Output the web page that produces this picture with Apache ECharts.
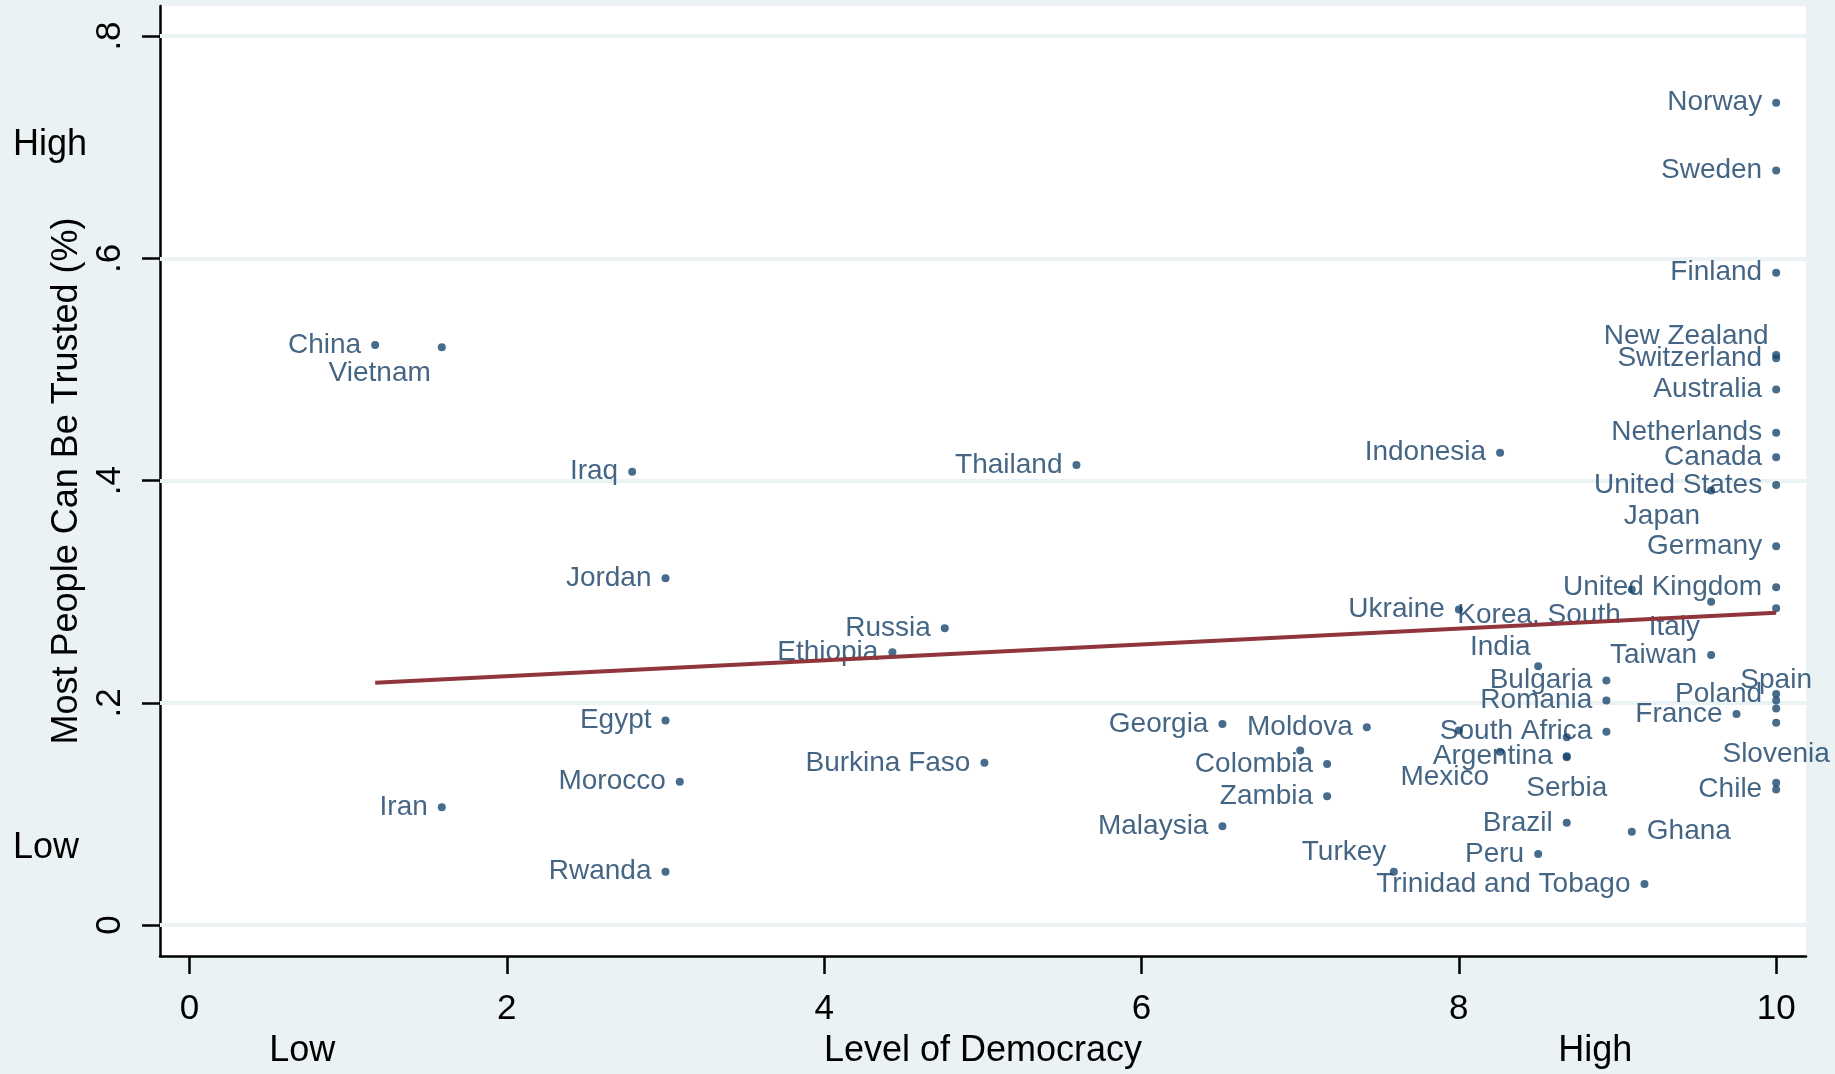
<!DOCTYPE html>
<html><head><meta charset="utf-8">
<script src="https://cdn.jsdelivr.net/npm/echarts@6/dist/echarts.min.js"></script>
<style>html,body{margin:0;padding:0;background:#EAF2F3}#c{width:1835px;height:1074px}</style>
</head><body><div id="c"></div>
<script>
// ---------- data ----------
const countries = [
  'Norway','Sweden','Finland','New Zealand','Switzerland','Australia','Netherlands','Canada',
  'United States','Japan','Germany','United Kingdom','Korea, South','Italy','Taiwan','Poland',
  'Spain','France','Slovenia','Chile','Indonesia','Ukraine','India','Bulgaria','Romania',
  'South Africa','Argentina','Serbia','Mexico','Brazil','Ghana','Peru','Trinidad and Tobago',
  'Turkey','Georgia','Moldova','Colombia','Zambia','Malaysia','Burkina Faso','Russia','Ethiopia',
  'Thailand','Iraq','Jordan','Egypt','Morocco','Iran','Rwanda','China','Vietnam',
  '','','','','',''
];
const democracy = [
  10,10,10,10,10,10,10,10,
  10,9.59,10,10,9.09,9.59,9.59,10,
  10,9.75,10,10,8.26,8.0,8.5,8.93,8.93,
  8.93,8.68,8.68,8.26,8.68,9.09,8.5,9.17,
  7.59,6.51,7.42,7.17,7.17,6.51,5.01,4.76,4.43,
  5.59,2.79,3.0,3.0,3.09,1.59,3.0,1.17,1.59,
  10,10,10,8.68,8.0,7.0
];
const trust = [
  0.740,0.679,0.587,0.513,0.510,0.482,0.443,0.421,
  0.396,0.391,0.341,0.304,0.302,0.291,0.243,0.208,
  0.195,0.190,0.182,0.122,0.425,0.284,0.233,0.220,0.202,
  0.174,0.152,0.151,0.156,0.092,0.084,0.064,0.037,
  0.048,0.181,0.178,0.145,0.116,0.089,0.146,0.267,0.2455,
  0.414,0.408,0.312,0.184,0.129,0.106,0.048,0.522,0.520,
  0.285,0.202,0.128,0.169,0.175,0.157
];
const fitDemocracy = [1.17, 10];
const fitTrust = [0.218, 0.281];
const xTickValues = [0, 2, 4, 6, 8, 10];
const xTickLabels = ['0', '2', '4', '6', '8', '10'];
const yTickValues = [0, 0.2, 0.4, 0.6, 0.8];
const yTickLabels = ['0', '.2', '.4', '.6', '.8'];
const xEndValues = [0.71, 8.86];
const xEndLabels = ['Low', 'High'];
const yEndValues = [0.069, 0.702];
const yEndLabels = ['Low', 'High'];

// ---------- style ----------
const FONT = "'Liberation Sans', Arial, sans-serif";
const NAVY = '#1A476F';
const LABEL_NAVY = '#173F66';
const MAROON = '#90353B';
const BG = '#EAF2F3';
// marker-label clock positions (L = 9 o'clock default)
const labelPlacement = {
  'New Zealand': 'UL', 'Japan': 'LL', 'Korea, South': 'LL', 'Italy': 'LL', 'Vietnam': 'LL',
  'Mexico': 'LL', 'India': 'UL', 'Turkey': 'UL', 'Spain': 'T', 'Slovenia': 'B', 'Serbia': 'B',
  'Ghana': 'R'
};
// pixel anchor relative to the marker box top-left (marker centre = 4, 4)
const placementStyle = {
  L:  {position: [-10, 4], align: 'right', verticalAlign: 'middle'},
  LL: {position: [-7, 30], align: 'right', verticalAlign: 'middle'},
  UL: {position: [-3.5, -15], align: 'right', verticalAlign: 'middle'},
  R:  {position: [19, 4], align: 'left', verticalAlign: 'middle'},
  T:  {position: [4, -24], align: 'center', verticalAlign: 'middle'},
  B:  {position: [4, 35], align: 'center', verticalAlign: 'middle'}
};

function lookup(vals, labels) {
  return v => { const i = vals.findIndex(t => Math.abs(t - v) < 1e-6); return i >= 0 ? labels[i] : ''; };
}

const points = countries.map((c, i) => ({
  name: c,
  value: [democracy[i], trust[i]],
  label: Object.assign({show: c !== ''}, placementStyle[labelPlacement[c] || 'L'])
}));

const X_MIN = -0.186, X_MAX = 10.188, Y_MIN = -0.0278, Y_MAX = 0.827;
const chart = echarts.init(document.getElementById('c'), null, {renderer: 'canvas'});
chart.setOption({
  backgroundColor: BG,
  animation: false,
  textStyle: {fontFamily: FONT},
  grid: {left: 160, top: 6, right: 29, bottom: 114, show: true, backgroundColor: '#ffffff', borderWidth: 0},
  xAxis: [{
    type: 'value', min: X_MIN, max: X_MAX,
    name: 'Level of Democracy', nameLocation: 'middle', nameGap: 77,
    nameTextStyle: {fontSize: 36, color: '#000', fontFamily: FONT, lineHeight: 36},
    axisLine: {onZero: false, lineStyle: {color: '#000', width: 2.5}},
    axisTick: {show: true, length: 18, lineStyle: {color: '#000', width: 2.5}, customValues: xTickValues},
    axisLabel: {customValues: xTickValues, formatter: lookup(xTickValues, xTickLabels),
      fontSize: 35, lineHeight: 35, color: '#000', fontFamily: FONT, margin: 36},
    splitLine: {show: false}
  }, {
    type: 'value', min: X_MIN, max: X_MAX, position: 'bottom',
    axisLine: {show: false}, axisTick: {show: false}, splitLine: {show: false},
    axisLabel: {customValues: xEndValues, formatter: lookup(xEndValues, xEndLabels),
      fontSize: 36, lineHeight: 36, color: '#000', fontFamily: FONT, margin: 77}
  }],
  yAxis: [{
    type: 'value', min: Y_MIN, max: Y_MAX,
    name: 'Most People Can Be Trusted (%)', nameLocation: 'middle', nameGap: 70, nameRotate: 90,
    nameTextStyle: {fontSize: 36, color: '#000', fontFamily: FONT, lineHeight: 36},
    axisLine: {onZero: false, lineStyle: {color: '#000', width: 2.5}},
    axisTick: {show: true, length: 18, lineStyle: {color: '#000', width: 2.5}, customValues: yTickValues},
    axisLabel: {customValues: yTickValues, formatter: lookup(yTickValues, yTickLabels), rotate: 90,
      fontSize: 35, lineHeight: 35, color: '#000', fontFamily: FONT, margin: 32},
    splitLine: {show: false}
  }, {
    type: 'value', min: Y_MIN, max: Y_MAX, position: 'left',
    axisLine: {show: false}, axisTick: {show: false}, splitLine: {show: false},
    axisLabel: {customValues: yEndValues, formatter: lookup(yEndValues, yEndLabels), align: 'left',
      fontSize: 36, lineHeight: 36, color: '#000', fontFamily: FONT, margin: 147}
  }],
  series: [{
    type: 'scatter', name: 'grid', data: [], z: 1, silent: true,
    markLine: {
      silent: true, symbol: 'none', animation: false, z: 1,
      label: {show: false},
      lineStyle: {type: 'solid', color: BG, width: 4},
      data: yTickValues.map(v => ({yAxis: v}))
    }
  }, {
    type: 'scatter', name: 'countries', z: 3,
    symbol: 'circle', symbolSize: 8,
    itemStyle: {color: NAVY},
    label: {show: true, formatter: '{b}', color: LABEL_NAVY, fontSize: 28, lineHeight: 28, fontFamily: FONT},
    data: points
  }, {
    type: 'line', name: 'fit', z: 5, symbol: 'none', silent: true,
    lineStyle: {color: MAROON, width: 4},
    data: fitDemocracy.map((x, i) => [x, fitTrust[i]])
  }]
});
</script></body></html>
